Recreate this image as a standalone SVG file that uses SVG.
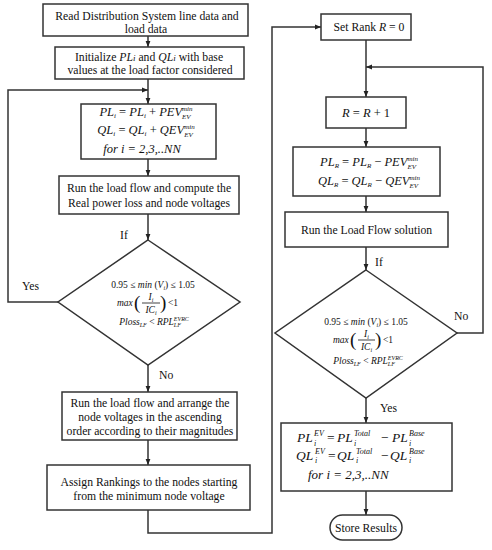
<svg xmlns="http://www.w3.org/2000/svg" width="492" height="550" viewBox="0 0 492 550">
<defs>
<marker id="ah" markerWidth="7" markerHeight="6" refX="6" refY="3" orient="auto" markerUnits="userSpaceOnUse"><path d="M0,0.6 L6,3 L0,5.4 z" fill="#222"/></marker>
<style>
.box{fill:#fff;stroke:#333;stroke-width:1.5}
.ln{fill:none;stroke:#333;stroke-width:1.5;marker-end:url(#ah)}
.t{font-family:"Liberation Serif","Times New Roman",serif;font-size:11.7px;fill:#111;text-anchor:middle}
.l{font-family:"Liberation Serif","Times New Roman",serif;font-size:11.7px;fill:#111}
.m{font-family:"Liberation Serif","Times New Roman",serif;font-style:italic;font-size:12.5px;fill:#111}
.d{font-family:"Liberation Serif","Times New Roman",serif;font-style:italic;font-size:9.5px;fill:#111}
.p{font-family:"Liberation Serif","Times New Roman",serif;font-size:19px;fill:#111}
.f{font-family:"Liberation Serif","Times New Roman",serif;font-style:italic;font-size:13.5px;fill:#111}
.n{font-style:normal}
.i{font-style:italic}
.s{font-size:7px}
.s8{font-size:8px}
.s6{font-size:6px}
</style>
</defs>
<rect width="492" height="550" fill="#fff"/>
<g id="connectors">
<path class="ln" d="M148,36 V47"/>
<path class="ln" d="M148,79 V104"/>
<path class="ln" d="M58,302 H8 V90 H148"/>
<path class="ln" d="M148,159 V176"/>
<path class="ln" d="M148,214 V240"/>
<path class="ln" d="M148,365 V392"/>
<path class="ln" d="M148,440 V465"/>
<path class="ln" d="M148,510 V533 H272 V27 H321"/>
<path class="ln" d="M366,40 V97"/>
<path class="ln" d="M457,333 H483 V67 H366"/>
<path class="ln" d="M366,128 V147"/>
<path class="ln" d="M366,196 V212"/>
<path class="ln" d="M366,247 V270"/>
<path class="ln" d="M366,398 V423"/>
<path class="ln" d="M366,491 V515"/>
<text class="l" x="120" y="239">If</text>
<text class="l" x="22" y="290">Yes</text>
<text class="l" x="159" y="379">No</text>
<text class="l" x="375" y="266">If</text>
<text class="l" x="454" y="320">No</text>
<text class="l" x="380" y="412">Yes</text>
</g>
<g id="read-data">
<rect class="box" x="43" y="4" width="205" height="32"/>
<text class="t" x="147" y="20">Read Distribution System line data and</text>
<text class="t" x="146" y="33">load data</text>
</g>
<g id="initialize">
<rect class="box" x="55" y="47" width="189" height="32"/>
<text class="t" x="149" y="61">Initialize <tspan class="i">PL<tspan font-size="9">i</tspan></tspan> and <tspan class="i">QL<tspan font-size="9">i</tspan></tspan> with base</text>
<text class="t" x="150" y="74">values at the load factor considered</text>
</g>
<g id="add-ev">
<rect class="box" x="81" y="104" width="135" height="55"/>
<text class="m" x="146" y="116" text-anchor="middle">PL<tspan class="s" dy="2">i</tspan><tspan class="n" dy="-2"> = </tspan>PL<tspan class="s" dy="2">i</tspan><tspan class="n" dy="-2"> + </tspan>PEV<tspan class="s" dy="-5">min</tspan><tspan class="s" dx="-10.5" dy="8">EV</tspan></text>
<text class="m" x="146" y="134" text-anchor="middle">QL<tspan class="s" dy="2">i</tspan><tspan class="n" dy="-2"> = </tspan>QL<tspan class="s" dy="2">i</tspan><tspan class="n" dy="-2"> + </tspan>QEV<tspan class="s" dy="-5">min</tspan><tspan class="s" dx="-10.5" dy="8">EV</tspan></text>
<text class="m" x="142" y="153" text-anchor="middle">for i = 2,3,..NN</text>
</g>
<g id="run-load-flow-1">
<rect class="box" x="59" y="176" width="180" height="38"/>
<text class="t" x="149" y="192">Run the load flow and compute the</text>
<text class="t" x="149" y="207">Real power loss and node voltages</text>
</g>
<g id="decision-1">
<polygon class="box" points="148,240 240,302 148,365 58,302"/>
<text class="d" x="153" y="288" text-anchor="middle"><tspan class="n">0.95 ≤ </tspan>min<tspan class="n"> (</tspan>V<tspan class="s6" dy="1.5">i</tspan><tspan class="n" dy="-1.5">) ≤ 1.05</tspan></text>
<text class="d" x="117" y="306">max</text>
<text class="p" x="134" y="308.5">(</text>
<text class="d" x="151" y="300" text-anchor="middle">I<tspan class="s6" dy="1.5">i</tspan></text>
<line x1="142" y1="303" x2="160" y2="303" stroke="#111" stroke-width="0.8"/>
<text class="d" x="151" y="313" text-anchor="middle">IC<tspan class="s6" dy="1.5">i</tspan></text>
<text class="p" x="160" y="308.5">)</text>
<text class="d n" x="168" y="306">&lt;1</text>
<text class="d" x="154" y="325" text-anchor="middle">Ploss<tspan class="s6" dy="2">LF</tspan><tspan class="n" dy="-2">  &lt;  </tspan>RPL<tspan class="s6" dy="-4">EVRC</tspan><tspan class="s6" dx="-15" dy="6">LF</tspan></text>
</g>
<g id="arrange-voltages">
<rect class="box" x="62" y="392" width="175" height="48"/>
<text class="t" x="150" y="407">Run the load flow and arrange the</text>
<text class="t" x="150" y="421">node voltages in the ascending</text>
<text class="t" x="150" y="435">order according to their  magnitudes</text>
</g>
<g id="assign-rankings">
<rect class="box" x="47" y="465" width="203" height="45"/>
<text class="t" x="149" y="486">Assign Rankings to the nodes starting</text>
<text class="t" x="149" y="500">from the minimum node voltage</text>
</g>
<g id="set-rank">
<rect class="box" x="321" y="14" width="90" height="26"/>
<text class="t" x="369" y="31">Set Rank <tspan class="i">R</tspan> = 0</text>
</g>
<g id="increment-rank">
<rect class="box" x="326" y="97" width="80" height="31"/>
<text class="m" x="366" y="117" text-anchor="middle">R<tspan class="n"> = </tspan>R<tspan class="n"> + 1</tspan></text>
</g>
<g id="subtract-ev">
<rect class="box" x="293" y="147" width="147" height="49"/>
<text class="m" x="369" y="166" text-anchor="middle">PL<tspan class="s" dy="2">R</tspan><tspan class="n" dy="-2"> = </tspan>PL<tspan class="s" dy="2">R</tspan><tspan class="n" dy="-2"> − </tspan>PEV<tspan class="s" dy="-5">min</tspan><tspan class="s" dx="-10.5" dy="8">EV</tspan></text>
<text class="m" x="369" y="185" text-anchor="middle">QL<tspan class="s" dy="2">R</tspan><tspan class="n" dy="-2"> = </tspan>QL<tspan class="s" dy="2">R</tspan><tspan class="n" dy="-2"> − </tspan>QEV<tspan class="s" dy="-5">min</tspan><tspan class="s" dx="-10.5" dy="8">EV</tspan></text>
</g>
<g id="run-load-flow-2">
<rect class="box" x="285" y="212" width="163" height="35"/>
<text class="t" x="366.5" y="234">Run the Load Flow solution</text>
</g>
<g id="decision-2">
<polygon class="box" points="366,270 457,333 366,398 275,333"/>
<text class="d" x="366" y="325" text-anchor="middle"><tspan class="n">0.95 ≤ </tspan>min<tspan class="n"> (</tspan>V<tspan class="s6" dy="1.5">i</tspan><tspan class="n" dy="-1.5">) ≤ 1.05</tspan></text>
<text class="d" x="333" y="343">max</text>
<text class="p" x="350" y="345.5">(</text>
<text class="d" x="366.5" y="337" text-anchor="middle">I<tspan class="s6" dy="1.5">i</tspan></text>
<line x1="358" y1="340" x2="375" y2="340" stroke="#111" stroke-width="0.8"/>
<text class="d" x="366.5" y="350" text-anchor="middle">IC<tspan class="s6" dy="1.5">i</tspan></text>
<text class="p" x="375" y="345.5">)</text>
<text class="d n" x="383" y="343">&lt;1</text>
<text class="d" x="368" y="364" text-anchor="middle">Ploss<tspan class="s6" dy="2">LF</tspan><tspan class="n" dy="-2">  &lt;  </tspan>RPL<tspan class="s6" dy="-4">EVRC</tspan><tspan class="s6" dx="-15" dy="6">LF</tspan></text>
</g>
<g id="compute-ev-load">
<rect class="box" x="281" y="423" width="171" height="68"/>
<text class="f" x="297" y="442">PL</text>
<text class="f s8" x="314" y="436">EV</text>
<text class="f s8" x="314" y="446">i</text>
<text class="f n" x="327" y="442">=</text>
<text class="f" x="337" y="442">PL</text>
<text class="f s8" x="354" y="436">Total</text>
<text class="f s8" x="354" y="446">i</text>
<text class="f n" x="381" y="442">−</text>
<text class="f" x="392" y="442">PL</text>
<text class="f s8" x="409" y="436">Base</text>
<text class="f s8" x="409" y="446">i</text>
<text class="f" x="296" y="460">QL</text>
<text class="f s8" x="315" y="454">EV</text>
<text class="f s8" x="315" y="463">i</text>
<text class="f n" x="328" y="460">=</text>
<text class="f" x="337" y="460">QL</text>
<text class="f s8" x="356" y="454">Total</text>
<text class="f s8" x="356" y="463">i</text>
<text class="f n" x="381" y="460">−</text>
<text class="f" x="390" y="460">QL</text>
<text class="f s8" x="409" y="454">Base</text>
<text class="f s8" x="409" y="463">i</text>
<text class="f" x="308" y="479" style="font-size:13px">for  i = 2,3,..NN</text>
</g>
<g id="store-results">
<rect class="box" x="330" y="515" width="72" height="25" rx="12.5"/>
<text class="t" x="366" y="532">Store Results</text>
</g>
</svg>
